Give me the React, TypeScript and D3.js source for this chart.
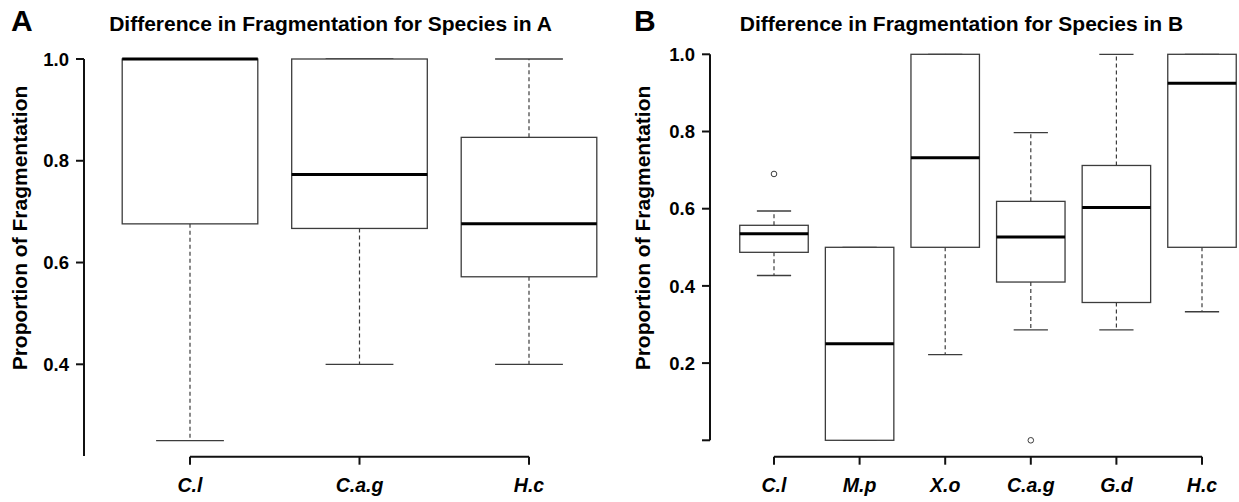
import React from 'react';
import * as d3 from 'd3';

// panel A
const speciesA = ['C.l', 'C.a.g', 'H.c'];
const lowA = [0.25, 0.4, 0.4];
const q1A = [0.676, 0.667, 0.572];
const medA = [1.0, 0.773, 0.676];
const q3A = [1.0, 1.0, 0.846];
const highA = [1.0, 1.0, 1.0];
const outA: { i: number; v: number }[] = [];
const ticksA = [0.4, 0.6, 0.8, 1.0];

// panel B
const speciesB = ['C.l', 'M.p', 'X.o', 'C.a.g', 'G.d', 'H.c'];
const lowB = [0.427, 0.0, 0.222, 0.286, 0.286, 0.333];
const q1B = [0.487, 0.0, 0.5, 0.41, 0.357, 0.5];
const medB = [0.535, 0.25, 0.732, 0.527, 0.603, 0.925];
const q3B = [0.557, 0.5, 1.0, 0.619, 0.712, 1.0];
const highB = [0.594, 0.5, 1.0, 0.797, 1.0, 1.0];
const outB = [{ i: 0, v: 0.69 }, { i: 3, v: 0.0 }];
const ticksB = [0.2, 0.4, 0.6, 0.8, 1.0];

const FONT = '"Liberation Sans", Arial, Helvetica, sans-serif';
const BOX = '#3c3c3c';

type PanelProps = {
  letter: string;
  letterX: number;
  title: string;
  titleX: number;
  species: string[];
  low: number[];
  q1: number[];
  med: number[];
  q3: number[];
  high: number[];
  outliers: { i: number; v: number }[];
  ticks: number[];
  extraTicks: number[];
  x: d3.ScaleLinear<number, number>;
  y: d3.ScaleLinear<number, number>;
  axisX: number;
  axisBottom: number;
  ylabX: number;
};

const Panel = (p: PanelProps) => {
  const step = p.x(2) - p.x(1);
  const bw = step * 0.8;
  const cw = step * 0.4;
  const baseY = 456.7;
  return (
    <g>
      <text x={p.letterX} y={31} fontFamily={FONT} fontWeight="bold" fontSize={30}>{p.letter}</text>
      <text x={p.titleX} y={31} textAnchor="middle" fontFamily={FONT} fontWeight="bold" fontSize={21}>{p.title}</text>

      {/* y axis */}
      <line x1={p.axisX} x2={p.axisX} y1={p.y(1.0)} y2={p.axisBottom} stroke="#111" strokeWidth={2} />
      {p.ticks.concat(p.extraTicks).map((t) => (
        <line key={'t' + t} x1={p.axisX - 8} x2={p.axisX} y1={p.y(t)} y2={p.y(t)} stroke="#111" strokeWidth={2} />
      ))}
      {p.ticks.map((t) => (
        <text key={'l' + t} x={p.axisX - 15} y={p.y(t)} dy="0.36em" textAnchor="end" fontFamily={FONT} fontWeight="bold" fontSize={18.5}>
          {t.toFixed(1)}
        </text>
      ))}
      <text
        transform={`translate(${p.ylabX},228) rotate(-90)`}
        textAnchor="middle"
        dy="0.36em"
        fontFamily={FONT}
        fontWeight="bold"
        fontSize={21}
      >
        Proportion of Fragmentation
      </text>

      {/* x axis */}
      <line x1={p.x(1)} x2={p.x(p.species.length)} y1={baseY} y2={baseY} stroke="#111" strokeWidth={2} />
      {p.species.map((s, i) => (
        <g key={s + i}>
          <line x1={p.x(i + 1)} x2={p.x(i + 1)} y1={baseY} y2={baseY + 8} stroke="#111" strokeWidth={2} />
          <text x={p.x(i + 1)} y={492} textAnchor="middle" fontFamily={FONT} fontWeight="bold" fontStyle="italic" fontSize={19.5}>
            {s}
          </text>
        </g>
      ))}

      {/* boxes */}
      {p.species.map((s, i) => {
        const cx = p.x(i + 1);
        return (
          <g key={'b' + i}>
            <line x1={cx} x2={cx} y1={p.y(p.q3[i])} y2={p.y(p.high[i])} stroke={BOX} strokeWidth={1.2} strokeDasharray="4,3" />
            <line x1={cx} x2={cx} y1={p.y(p.q1[i])} y2={p.y(p.low[i])} stroke={BOX} strokeWidth={1.2} strokeDasharray="4,3" />
            <line x1={cx - cw / 2} x2={cx + cw / 2} y1={p.y(p.high[i])} y2={p.y(p.high[i])} stroke={BOX} strokeWidth={1.3} />
            <line x1={cx - cw / 2} x2={cx + cw / 2} y1={p.y(p.low[i])} y2={p.y(p.low[i])} stroke={BOX} strokeWidth={1.3} />
            <rect
              x={cx - bw / 2}
              y={p.y(p.q3[i])}
              width={bw}
              height={p.y(p.q1[i]) - p.y(p.q3[i])}
              fill="white"
              stroke={BOX}
              strokeWidth={1.3}
            />
            <line x1={cx - bw / 2} x2={cx + bw / 2} y1={p.y(p.med[i])} y2={p.y(p.med[i])} stroke="#000" strokeWidth={3} />
          </g>
        );
      })}
      {p.outliers.map((o, k) => (
        <circle key={'o' + k} cx={p.x(o.i + 1)} cy={p.y(o.v)} r={2.8} fill="white" stroke={BOX} strokeWidth={1} />
      ))}
    </g>
  );
};

const App = () => {
  const xA = d3.scaleLinear().domain([1, 3]).range([190, 529]);
  const yA = d3.scaleLinear().domain([0.4, 1.0]).range([364.3, 59]);
  const xB = d3.scaleLinear().domain([1, 6]).range([774, 1202]);
  const yB = d3.scaleLinear().domain([0, 1.0]).range([440.3, 54.3]);

  return (
    <svg width={1239} height={502} style={{ position: 'absolute', left: 0, top: 0, background: 'white' }}>
      <rect width={1239} height={502} fill="white" />
      <Panel
        letter="A"
        letterX={11}
        title="Difference in Fragmentation for Species in A"
        titleX={330.5}
        species={speciesA}
        low={lowA}
        q1={q1A}
        med={medA}
        q3={q3A}
        high={highA}
        outliers={outA}
        ticks={ticksA}
        extraTicks={[]}
        x={xA}
        y={yA}
        axisX={84}
        axisBottom={yA(0.22)}
        ylabX={19}
      />
      <Panel
        letter="B"
        letterX={634}
        title="Difference in Fragmentation for Species in B"
        titleX={961.5}
        species={speciesB}
        low={lowB}
        q1={q1B}
        med={medB}
        q3={q3B}
        high={highB}
        outliers={outB}
        ticks={ticksB}
        extraTicks={[0]}
        x={xB}
        y={yB}
        axisX={710}
        axisBottom={yB(0)}
        ylabX={642}
      />
    </svg>
  );
};

export default App;
